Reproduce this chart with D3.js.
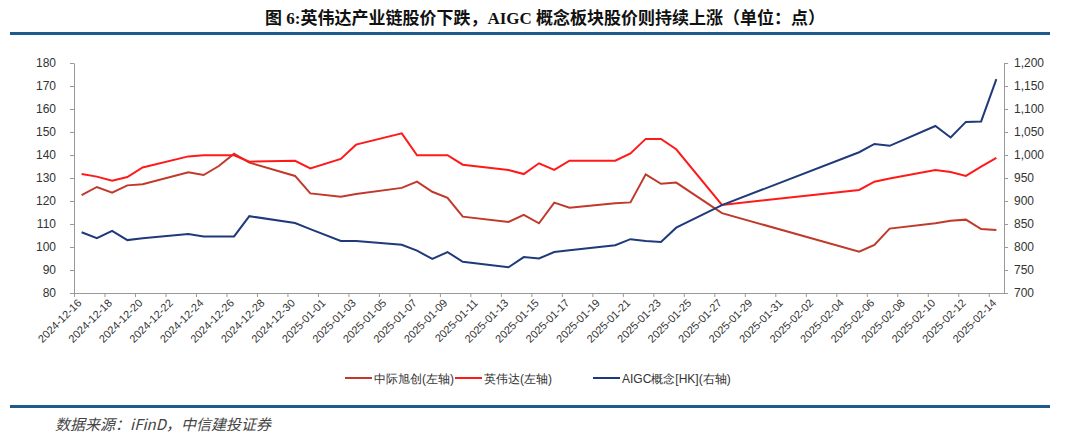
<!DOCTYPE html>
<html><head><meta charset="utf-8">
<script src="https://cdn.jsdelivr.net/npm/d3@7/dist/d3.min.js"></script>
<style>body{margin:0;background:#fff}svg{display:block}</style></head>
<body><svg id="c" width="1080" height="445"></svg>
<script>
const dates=["2024-12-16","2024-12-17","2024-12-18","2024-12-19","2024-12-20","2024-12-23","2024-12-24","2024-12-25","2024-12-26","2024-12-27","2024-12-30","2024-12-31","2025-01-02","2025-01-03","2025-01-06","2025-01-07","2025-01-08","2025-01-09","2025-01-10","2025-01-13","2025-01-14","2025-01-15","2025-01-16","2025-01-17","2025-01-20","2025-01-21","2025-01-22","2025-01-23","2025-01-24","2025-01-27","2025-02-05","2025-02-06","2025-02-07","2025-02-10","2025-02-11","2025-02-12","2025-02-13","2025-02-14"];
const zhongji=[122.6,126.1,123.6,126.8,127.3,132.5,131.3,135.2,140.6,136.7,130.9,123.3,121.9,123,125.7,128.4,124,121.4,113.2,110.9,114,110.3,119.3,117.1,119,119.4,131.6,127.5,128,114.7,98,100.9,108,110.3,111.4,111.9,107.8,107.4];
const nvidia=[131.7,130.6,128.8,130.4,134.6,139.4,139.9,139.9,139.9,137.1,137.5,134.2,138.3,144.5,149.4,139.9,139.9,139.9,135.8,133.5,131.7,136.4,133.5,137.5,137.5,140.7,147,147,142.5,118.3,124.8,128.4,129.8,133.5,132.6,130.9,134.9,138.7];
const aigc=[832,819,835,815,819,828,823,823,823,867,852,839,813,813,805,792,774,789,768,756,778,775,789,793,804,817,813,811,842,891,1006,1024,1020,1063,1038,1072,1073,1165];
const leftTicks=[80,90,100,110,120,130,140,150,160,170,180];
const rightTicks=[700,750,800,850,900,950,1000,1050,1100,1150,1200];
const seriesNames=["中际旭创(左轴)","英伟达(左轴)","AIGC概念[HK](右轴)"];
const colors=["#c0392b","#ff1a1a","#1f3a7a"];

const svg=d3.select("#c");
const P=d3.timeParse("%Y-%m-%d");
const L=74,R=1004,T=63,B=293;
const x=d3.scaleUtc().domain([Date.UTC(2024,11,16),Date.UTC(2025,1,15)]).range([L,R]);
const xd=s=>{const d=P(s);return x(Date.UTC(d.getFullYear(),d.getMonth(),d.getDate(),12));};
const yl=d3.scaleLinear().domain([80,180]).range([B,T]);
const yr=d3.scaleLinear().domain([700,1200]).range([B,T]);

svg.append("text").attr("x",545).attr("y",24).attr("text-anchor","middle")
 .attr("font-family","'Liberation Serif','Noto Sans CJK SC',serif").attr("font-weight","bold").attr("font-size",17).attr("fill","#111")
 .text("图 6:英伟达产业链股价下跌，AIGC 概念板块股价则持续上涨（单位：点）");
svg.append("rect").attr("x",10).attr("y",32).attr("width",1040).attr("height",3).attr("fill","#1d5a8e");
svg.append("rect").attr("x",10).attr("y",405).attr("width",1040).attr("height",3).attr("fill","#1d5a8e");
svg.append("text").attr("x",55).attr("y",430).attr("font-family","'Noto Sans CJK SC',serif").attr("font-style","italic").attr("font-size",15).attr("fill","#444")
 .text("数据来源：iFinD，中信建投证券");

const fnt="'Liberation Sans',Arial,sans-serif";
const styleAxis=g=>{g.selectAll("path,line").attr("stroke","#999");g.selectAll("text").attr("font-family",fnt).attr("font-size",12).attr("fill","#333");};
const tickDates=d3.range(0,61,2).map(i=>new Date(Date.UTC(2024,11,16+i)));
svg.append("g").attr("transform",`translate(0,${B})`).call(d3.axisBottom(x).tickValues(tickDates).tickSize(4).tickSizeOuter(0).tickFormat(d3.utcFormat("%Y-%m-%d")))
 .call(styleAxis).call(g=>g.selectAll("text").attr("font-size",11).attr("text-anchor","end").attr("dx","-2").attr("dy","6").attr("transform","rotate(-45)"));
svg.append("g").attr("transform",`translate(${L},0)`).call(d3.axisLeft(yl).tickValues(leftTicks).tickSize(4).tickSizeOuter(0).tickPadding(14)).call(styleAxis);
svg.append("g").attr("transform",`translate(${R},0)`).call(d3.axisRight(yr).tickValues(rightTicks).tickSize(4).tickSizeOuter(0).tickPadding(6).tickFormat(d3.format(","))).call(styleAxis);

const draw=(vals,y,c)=>svg.append("path").datum(vals).attr("fill","none").attr("stroke",c).attr("stroke-width",2)
 .attr("d",d3.line().x((d,i)=>xd(dates[i])).y(d=>y(d)));
draw(zhongji,yl,colors[0]);draw(nvidia,yl,colors[1]);draw(aigc,yr,colors[2]);

const lx=[345,455,593];
seriesNames.forEach((n,i)=>{
 const g=svg.append("g").attr("transform",`translate(${lx[i]},378)`);
 g.append("line").attr("x1",0).attr("x2",27).attr("stroke",colors[i]).attr("stroke-width",2);
 g.append("text").attr("x",29).attr("y",4.5).attr("font-family",fnt).attr("font-size",12).attr("fill","#333").text(n);
});
</script></body></html>
